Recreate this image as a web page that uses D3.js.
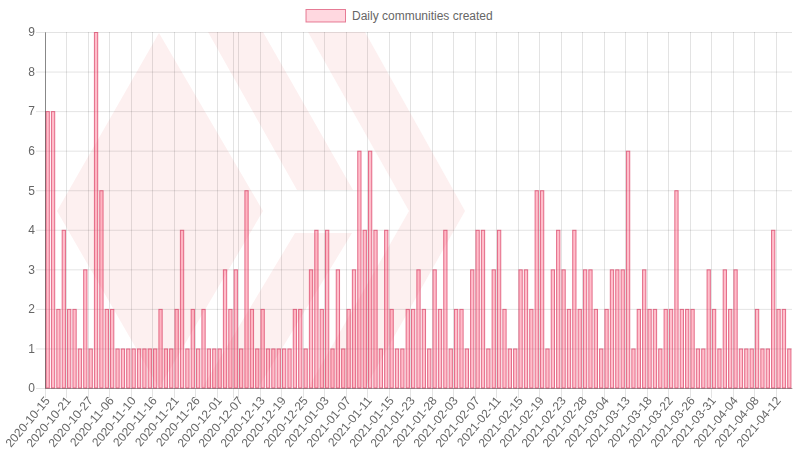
<!DOCTYPE html>
<html>
<head>
<meta charset="utf-8">
<script src="https://cdn.jsdelivr.net/npm/d3@7"></script>
<style>
  html, body { margin: 0; padding: 0; background: #fff; }
  svg { display: block; }
  text { font-family: "Liberation Sans", Arial, sans-serif; font-size: 12px; fill: #666; }
</style>
</head>
<body>
<div id="chart"></div>
<script>
var values = [
  7, 7, 2, 4, 2, 2, 1, 3, 1, 9, 5, 2, 2, 1, 1, 1, 1, 1, 1, 1,
  1, 2, 1, 1, 2, 4, 1, 2, 1, 2, 1, 1, 1, 3, 2, 3, 1, 5, 2, 1,
  2, 1, 1, 1, 1, 1, 2, 2, 1, 3, 4, 2, 4, 1, 3, 1, 2, 3, 6, 4,
  6, 4, 1, 4, 2, 1, 1, 2, 2, 3, 2, 1, 3, 2, 4, 1, 2, 2, 1, 3,
  4, 4, 1, 3, 4, 2, 1, 1, 3, 3, 2, 5, 5, 1, 3, 4, 3, 2, 4, 2,
  3, 3, 2, 1, 2, 3, 3, 3, 6, 1, 2, 3, 2, 2, 1, 2, 2, 5, 2, 2,
  2, 1, 1, 3, 2, 1, 3, 2, 3, 1, 1, 1, 2, 1, 1, 4, 2, 2, 1
];

var tickLabels = [
  '2020-10-15', '2020-10-21', '2020-10-27', '2020-11-06', '2020-11-10',
  '2020-11-16', '2020-11-21', '2020-11-26', '2020-12-01', '2020-12-07',
  '2020-12-13', '2020-12-19', '2020-12-25', '2021-01-03', '2021-01-07',
  '2021-01-11', '2021-01-15', '2021-01-23', '2021-01-28', '2021-02-03',
  '2021-02-07', '2021-02-11', '2021-02-15', '2021-02-19', '2021-02-23',
  '2021-02-28', '2021-03-04', '2021-03-13', '2021-03-18', '2021-03-22',
  '2021-03-26', '2021-03-31', '2021-04-04', '2021-04-08', '2021-04-12'
];

var yTicks = [0, 1, 2, 3, 4, 5, 6, 7, 8, 9];
var seriesName = 'Daily communities created';

var width = 798,
    height = 450,
    left = 45,
    right = 792,
    top_ = 32,
    bottom = 388,
    labelStep = 4,
    strayGrid = 35,
    watermark = '#fdf0f0',
    gridCol = 'rgba(0,0,0,0.11)',
    barFill = 'rgba(255,99,132,0.42)',
    barStroke = 'rgba(214,48,88,0.65)';

var svg = d3.select('#chart').append('svg')
    .attr('width', width)
    .attr('height', height);

// band scale for the bars, linear one for the gridlines between them
var x = d3.scaleBand()
    .domain(d3.range(values.length))
    .range([left, right])
    .paddingInner(0.2)
    .paddingOuter(0.1);

var xEdge = d3.scaleLinear()
    .domain([0, values.length])
    .rangeRound([left, right]);

var y = d3.scaleLinear()
    .domain([0, 9])
    .range([bottom, top_]);

// Hive logo behind the plot
var logo = [
  [[159, 33], [263, 211], [159, 388], [57, 211]],
  [[208, 32], [263, 32], [353, 190], [297, 190]],
  [[295, 233], [352, 233], [258, 388], [202, 388]],
  [[308, 32], [365, 32], [465, 211], [365, 388], [308, 388], [409, 211]]
];

svg.append('g').selectAll('polygon')
    .data(logo)
  .enter().append('polygon')
    .attr('points', function(d) { return d.join(' '); })
    .attr('fill', watermark);

// GRID
var labelIdx = tickLabels.map(function(d, i) { return i * labelStep; });

svg.append('g')
    .attr('transform', 'translate(0,' + bottom + ')')
    .call(d3.axisBottom(xEdge)
      .tickValues(labelIdx.concat([strayGrid]))
      .tickSizeInner(top_ - bottom)
      .tickSizeOuter(0)
      .tickFormat(''))
    .call(function(g) {
      g.select('.domain').remove();
      g.selectAll('line').attr('stroke', gridCol);
    });

svg.append('g')
    .attr('transform', 'translate(' + left + ',0)')
    .call(d3.axisLeft(y)
      .tickValues(yTicks)
      .tickSizeInner(left - right)
      .tickSizeOuter(0)
      .tickFormat(''))
    .call(function(g) {
      g.select('.domain').remove();
      g.selectAll('line').attr('stroke', gridCol);
    });

// BARS
svg.append('g').selectAll('rect')
    .data(values)
  .enter().append('rect')
    .attr('x', function(d, i) { return x(i) + 0.5; })
    .attr('y', function(d) { return y(d) + 0.5; })
    .attr('width', x.bandwidth() - 1)
    .attr('height', function(d) { return bottom - y(d) - 0.5; })
    .attr('fill', barFill)
    .attr('stroke', barStroke)
    .attr('stroke-width', 1);

// AXES
var xAxis = svg.append('g')
    .attr('transform', 'translate(0,' + bottom + ')')
    .attr('opacity', 0.999) // keeps the rotated labels on plain grey antialiasing
    .call(d3.axisBottom(xEdge)
      .tickValues(labelIdx.concat([strayGrid]))
      .tickSizeInner(10)
      .tickSizeOuter(0)
      .tickFormat(function(d) {
        return d % labelStep === 0 ? tickLabels[d / labelStep] : '';
      }));

xAxis.select('.domain').attr('stroke', 'rgba(0,0,0,0.3)');
xAxis.selectAll('line').attr('stroke', gridCol);
xAxis.selectAll('text')
    .attr('text-anchor', 'end')
    .attr('y', 0)
    .attr('dy', 0)
    .attr('transform', 'translate(5,13) rotate(-50)');

var yAxis = svg.append('g')
    .attr('transform', 'translate(' + left + ',0)')
    .call(d3.axisLeft(y)
      .tickValues(yTicks)
      .tickSizeInner(9)
      .tickSizeOuter(0)
      .tickPadding(1)
      .tickFormat(d3.format('d')));

yAxis.select('.domain').attr('stroke', 'rgba(0,0,0,0.4)');
yAxis.selectAll('line').attr('stroke', gridCol);

// LEGEND
var legend = svg.append('g');

legend.append('rect')
    .attr('x', 306)
    .attr('y', 9.5)
    .attr('width', 39.5)
    .attr('height', 12.5)
    .attr('fill', 'rgba(255,99,132,0.25)')
    .attr('stroke', 'rgba(214,48,88,0.6)')
    .attr('stroke-width', 1);

legend.append('text')
    .attr('x', 352)
    .attr('y', 19.5)
    .text(seriesName);
</script>
</body>
</html>
